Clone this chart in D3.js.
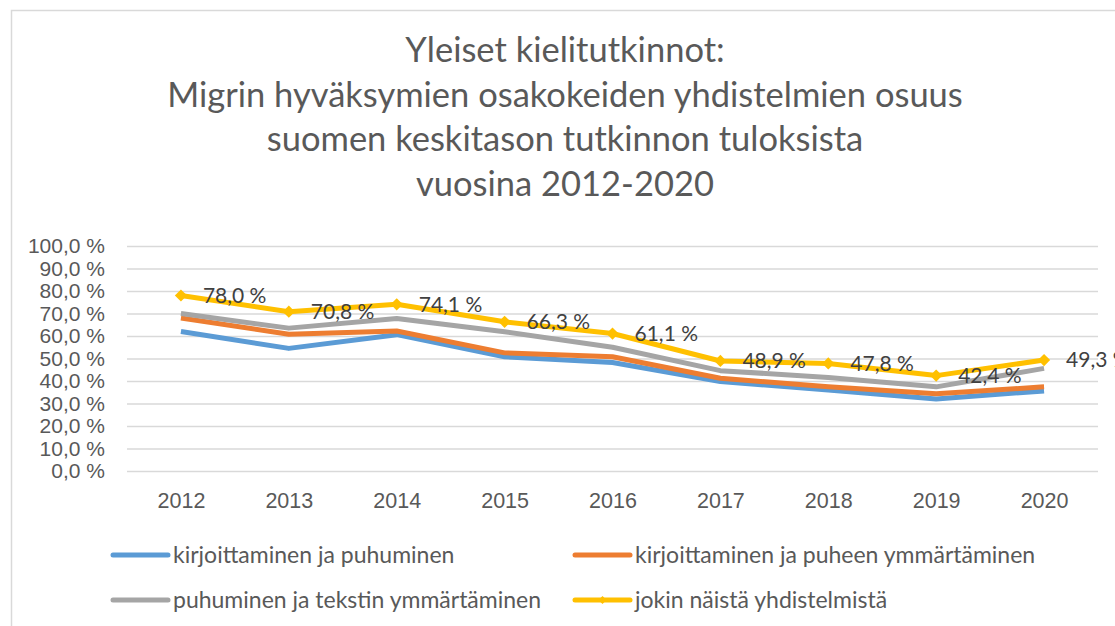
<!DOCTYPE html>
<html>

<head>
    <meta charset="utf-8">
    <style>
        body {
            margin: 0;
            background: #fff;
        }

        svg {
            display: block;
            font-family: Lato, 'Open Sans', sans-serif;
        }

        .grid .tick line {
            stroke: #d9d9d9;
            stroke-width: 1.3px;
        }

        .grid .domain,
        .x .domain {
            display: none;
        }

        .grid .tick text {
            font-size: 21px;
            fill: #595959;
        }

        .x .tick text {
            font-size: 21.5px;
            fill: #595959;
        }

        .title {
            font-size: 34.5px;
            fill: #595959;
        }

        .value-label {
            font-size: 21px;
            fill: #404040;
        }

        .legend text {
            font-size: 23px;
            fill: #595959;
        }
    </style>
</head>

<body>
    <svg width="1115" height="626"></svg>

    <script src="https://d3js.org/d3.v7.min.js"></script>
    <script>
        // data
        let years = ["2012", "2013", "2014", "2015", "2016", "2017", "2018", "2019", "2020"]

        let kirjPuhu = [62.0, 54.5, 60.6, 50.8, 48.2, 39.8, 36.0, 32.0, 35.6]
        let kirjPuheenYmm = [68.0, 60.8, 62.2, 52.5, 50.8, 41.2, 37.4, 34.3, 37.4]
        let puhuTekstiYmm = [70.0, 63.5, 67.8, 61.9, 55.0, 44.6, 41.6, 37.4, 45.6]
        let jokinNaista = [78.0, 70.8, 74.1, 66.3, 61.1, 48.9, 47.8, 42.4, 49.3]

        let seriesNames = [
            "kirjoittaminen ja  puhuminen",
            "kirjoittaminen ja puheen ymmärtäminen",
            "puhuminen ja tekstin ymmärtäminen",
            "jokin näistä yhdistelmistä"
        ]
        let seriesColors = ["#5b9bd5", "#ed7d31", "#a5a5a5", "#ffc000"]

        let yTicks = [0, 10, 20, 30, 40, 50, 60, 70, 80, 90, 100]

        let titleLines = [
            "Yleiset kielitutkinnot:",
            "Migrin hyväksymien osakokeiden yhdistelmien osuus",
            "suomen keskitason tutkinnon tuloksista",
            "vuosina 2012-2020"
        ]

        let series = [kirjPuhu, kirjPuheenYmm, puhuTekstiYmm, jokinNaista].map(function (vals, i) {
            return {
                name: seriesNames[i],
                color: seriesColors[i],
                values: vals.map(function (v, j) { return { year: years[j], value: v } })
            }
        })

        let svg = d3.select("svg")

        let margin = { top: 246, right: 17, bottom: 155, left: 127 }
        let width = 1115
        let height = 626

        // chart frame
        svg.append("rect")
            .attr("x", 11.5)
            .attr("y", 10.5)
            .attr("width", 1200)
            .attr("height", 700)
            .style("fill", "none")
            .style("stroke", "#d9d9d9")
            .style("stroke-width", "1.5px")

        // title
        svg.append("g")
            .selectAll("text")
            .data(titleLines)
            .join("text")
            .attr("class", "title")
            .attr("x", 565)
            .attr("y", (d, i) => 62 + i * 44.7)
            .attr("text-anchor", "middle")
            .text(d => d)

        let x = d3.scalePoint()
            .domain(years)
            .range([margin.left, width - margin.right])
            .padding(0.5)

        let y = d3.scaleLinear()
            .domain([0, 100])
            .range([height - margin.bottom, margin.top])

        let pct = v => d3.format(".1f")(v).replace(".", ",") + " %"

        let yAxisSettings = d3.axisLeft(y)
            .tickValues(yTicks)
            .tickFormat(pct)
            .tickSize(-(width - margin.right - margin.left))
            .tickPadding(22)

        svg.append("g")
            .attr("class", "grid")
            .attr("transform", `translate(${margin.left},0)`)
            .call(yAxisSettings)

        let xAxisSettings = d3.axisBottom(x)
            .tickSize(0)

        let xAxisTicks = svg.append("g")
            .attr("class", "x axis")
            .attr("transform", `translate(0,${height - margin.bottom})`)
            .call(xAxisSettings)

        xAxisTicks.selectAll(".tick text")
            .attr("y", 37)
            .attr("dy", null)

        let line = d3.line()
            .x(d => x(d.year))
            .y(d => y(d.value))

        svg.append("g")
            .selectAll(".line")
            .data(series)
            .join("path")
            .attr("class", "line")
            .attr("d", d => line(d.values))
            .style("fill", "none")
            .style("stroke", d => d.color)
            .style("stroke-width", "5px")
            .style("stroke-linejoin", "round")

        let last = series[3]

        // diamond markers for the "jokin" series
        svg.append("g")
            .selectAll("path")
            .data(last.values)
            .join("path")
            .attr("transform", d => `translate(${x(d.year)},${y(d.value)})`)
            .attr("d", d3.symbol(d3.symbolDiamond2, 95))
            .style("fill", last.color)

        svg.append("g")
            .selectAll("text")
            .data(last.values)
            .join("text")
            .attr("class", "value-label")
            .attr("x", d => x(d.year) + 22)
            .attr("y", d => y(d.value))
            .attr("dy", "0.35em")
            .text(d => pct(d.value))

        // legend
        let legendPos = [[113, 555], [575, 555], [113, 600], [575, 600]]

        let legend = svg.append("g")
            .attr("class", "legend")
            .selectAll("g")
            .data(series)
            .join("g")
            .attr("transform", (d, i) => `translate(${legendPos[i][0]},${legendPos[i][1]})`)

        legend.append("line")
            .attr("x1", 0)
            .attr("x2", 55)
            .style("stroke", d => d.color)
            .style("stroke-width", "5px")
            .style("stroke-linecap", "round")

        legend.filter((d, i) => i == 3)
            .append("path")
            .attr("transform", "translate(27.5,0)")
            .attr("d", d3.symbol(d3.symbolDiamond2, 40))
            .style("fill", d => d.color)

        legend.append("text")
            .attr("x", 60)
            .attr("dy", "0.35em")
            .text(d => d.name)
    </script>
</body>

</html>
